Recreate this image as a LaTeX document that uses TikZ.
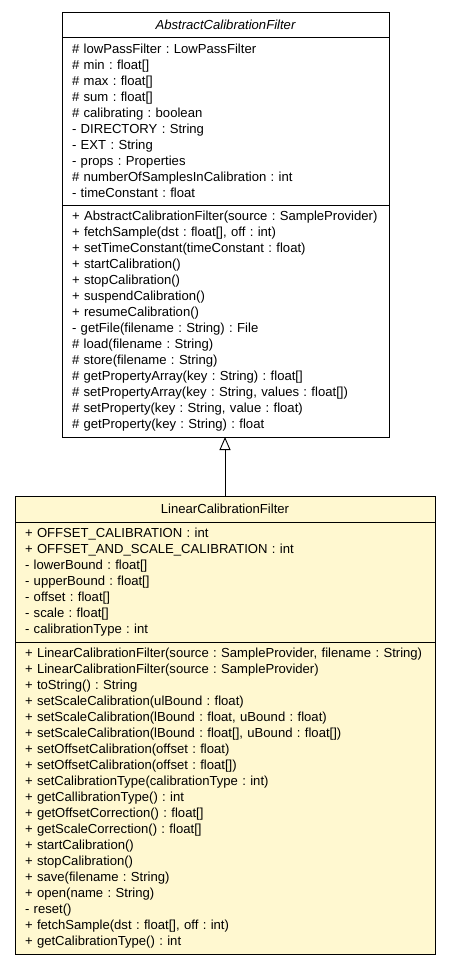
\documentclass[tikz,border=0pt]{standalone}
\usepackage{fontspec}
\setmainfont{Liberation Sans}
\usepackage{tikz}
\usetikzlibrary{arrows.meta,positioning}
\definecolor{classfill}{HTML}{FFF8D0}
\frenchspacing
\tikzset{%
	umlbox/.style    = {draw, rectangle, line width=0.9pt, outer sep=0pt, inner xsep=10pt, inner ysep=4pt, font=\fontsize{13.1}{16}\selectfont},
	classtitle/.style = {umlbox, minimum height=25pt, text centered},
	classpart/.style  = {umlbox, align=left},
	extends/.style   = {line width=0.9pt, -{Triangle[open,length=13pt,width=11pt]}},
}
\begin{document}
\begin{tikzpicture}
	\useasboundingbox (0pt,0pt) rectangle (451pt,-965pt);
	\node [classtitle,minimum width=327pt,anchor=north] (abs) at (225.5pt,-12pt) {\itshape AbstractCalibrationFilter};
	\node [classpart,text width=307pt,minimum height=168pt] (absattr) [below=0pt of abs] {%
		\# lowPassFilter : LowPassFilter\\
		\# min : float[]\\
		\# max : float[]\\
		\# sum : float[]\\
		\# calibrating : boolean\\
		- DIRECTORY : String\\
		- EXT : String\\
		- props : Properties\\
		\# numberOfSamplesInCalibration : int\\
		- timeConstant : float};
	\node [classpart,text width=307pt,minimum height=232pt] (absmeth) [below=0pt of absattr] {%
		+ AbstractCalibrationFilter(source : SampleProvider)\\
		+ fetchSample(dst : float[], off : int)\\
		+ setTimeConstant(timeConstant : float)\\
		+ startCalibration()\\
		+ stopCalibration()\\
		+ suspendCalibration()\\
		+ resumeCalibration()\\
		- getFile(filename : String) : File\\
		\# load(filename : String)\\
		\# store(filename : String)\\
		\# getPropertyArray(key : String) : float[]\\
		\# setPropertyArray(key : String, values : float[])\\
		\# setProperty(key : String, value : float)\\
		\# getProperty(key : String) : float};
	
	\node [classtitle,minimum width=420pt,minimum height=26pt,anchor=north,fill=classfill] (lin) at (225pt,-496pt) {LinearCalibrationFilter};
	\node [classpart,text width=400pt,minimum height=120pt,fill=classfill] (linattr) [below=0pt of lin] {%
		+ OFFSET\_CALIBRATION : int\\
		+ OFFSET\_AND\_SCALE\_CALIBRATION : int\\
		- lowerBound : float[]\\
		- upperBound : float[]\\
		- offset : float[]\\
		- scale : float[]\\
		- calibrationType : int};
	\node [classpart,text width=400pt,minimum height=312pt,fill=classfill] (linmeth) [below=0pt of linattr] {%
		+ LinearCalibrationFilter(source : SampleProvider, filename : String)\\
		+ LinearCalibrationFilter(source : SampleProvider)\\
		+ toString() : String\\
		+ setScaleCalibration(ulBound : float)\\
		+ setScaleCalibration(lBound : float, uBound : float)\\
		+ setScaleCalibration(lBound : float[], uBound : float[])\\
		+ setOffsetCalibration(offset : float)\\
		+ setOffsetCalibration(offset : float[])\\
		+ setCalibrationType(calibrationType : int)\\
		+ getCallibrationType() : int\\
		+ getOffsetCorrection() : float[]\\
		+ getScaleCorrection() : float[]\\
		+ startCalibration()\\
		+ stopCalibration()\\
		+ save(filename : String)\\
		+ open(name : String)\\
		- reset()\\
		+ fetchSample(dst : float[], off : int)\\
		+ getCalibrationType() : int};
	
	\draw [extends] (lin.north) -- (lin.north |- absmeth.south);
\end{tikzpicture}
\end{document}
